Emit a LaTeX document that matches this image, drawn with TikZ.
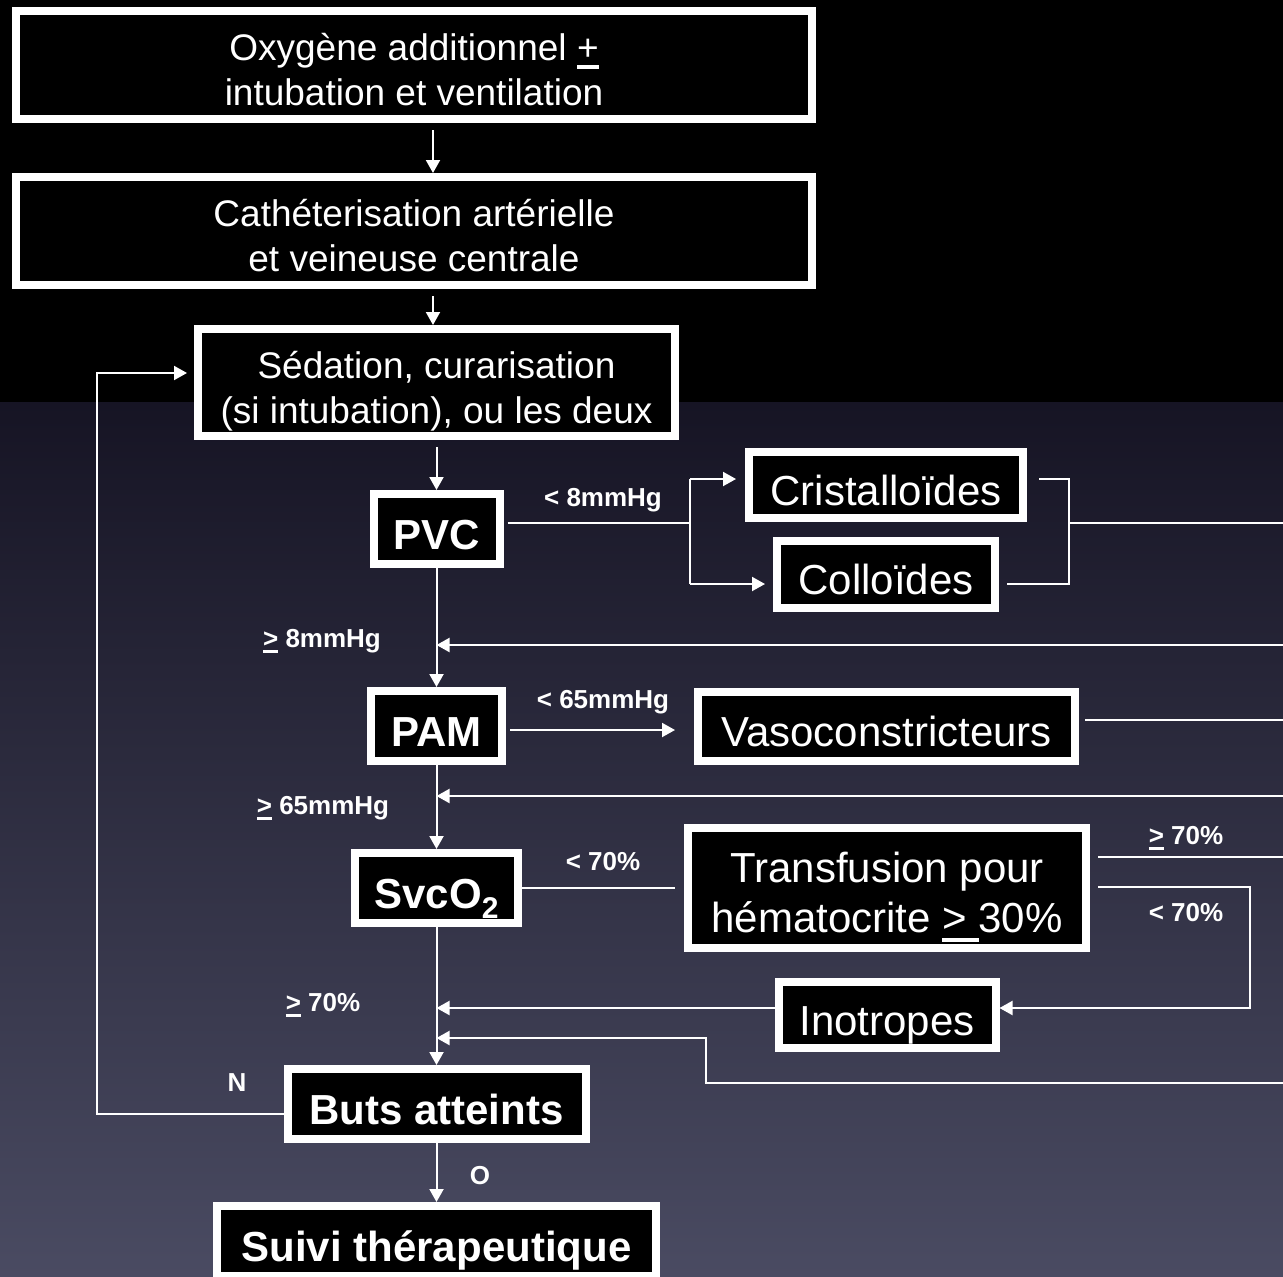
\documentclass[tikz,border=0pt]{standalone}
\usepackage{fontspec}
\setmainfont{Liberation Sans}
\usepackage{tikz}
\usetikzlibrary{arrows.meta,positioning,calc}
\definecolor{bgtop}{RGB}{22,20,36}
\definecolor{bgbot}{RGB}{74,75,98}
\tikzstyle{box}  =[draw=white, line width=8pt, fill=black,
                   text=white, align=center, inner sep=0pt]
\tikzstyle{wide} =[box, font=\fontsize{37}{45}\selectfont]
\tikzstyle{key}  =[box, minimum height=70pt, text height=44pt, text depth=4pt,
                   font=\fontsize{42}{50}\selectfont\bfseries]
\tikzstyle{actm} =[box, font=\fontsize{42}{50}\selectfont]
\tikzstyle{act}  =[actm, text height=44pt, text depth=4pt]
\tikzstyle{wire} =[draw=white, line width=2pt]
\tikzstyle{link} =[wire, -{Triangle[length=13pt,width=14pt]}]
\tikzstyle{lbl}  =[text=white, inner sep=0pt,
                   font=\fontsize{26}{30}\selectfont\bfseries]
\newcommand{\undl}[1]{\setbox0\hbox{#1}\rlap{\rule[-0.22em]{\wd0}{0.1em}}\box0\relax}
\newcommand{\lift}[1]{\rule{0pt}{#1}}
\begin{document}
\begin{tikzpicture}[x=1pt, y=-1pt, node distance=100pt, on grid]
        \fill[black] (0,0) rectangle (1283,402);
        \shade[top color=bgtop, bottom color=bgbot] (0,402) rectangle (1283,1277);
        \useasboundingbox (0,0) rectangle (1283,1277);

        % main column
        \node[wide, minimum width=796pt, minimum height=108pt] (oxy) at (414,65)
                {\lift{37pt}Oxygène additionnel \undl{+}\\intubation et ventilation};
        \node[wide, minimum width=796pt, minimum height=108pt, below=166pt of oxy] (cath)
                {\lift{37pt}Cathéterisation artérielle\\et veineuse centrale};
        \node[wide, minimum width=477pt, minimum height=107pt,
                below right=151.5pt and 22.5pt of cath] (sed)
                {\lift{45pt}Sédation, curarisation\\(si intubation), ou les deux};
        \node[key, minimum width=126pt, below=146.5pt of sed] (pvc) {PVC};
        \node[key, minimum width=131pt, below=197pt of pvc] (pam) {PAM};
        \node[key, minimum width=163pt, below=162pt of pam] (svc)
                {SvcO\raisebox{-0.25em}{\fontsize{30}{30}\selectfont 2}};
        \node[key, minimum width=298pt, below=216pt of svc] (buts) {Buts atteints};
        \node[key, minimum width=439pt, below=137pt of buts] (suivi) {Suivi thérapeutique};

        % right column
        \node[act, minimum width=274pt, minimum height=66pt,
                above right=44pt and 449.5pt of pvc] (cris) {Cristalloïdes};
        \node[act, minimum width=218pt, minimum height=67pt, below=89.5pt of cris] (coll) {Colloïdes};
        \node[act, minimum width=377pt, minimum height=69pt, right=450pt of pam] (vaso) {Vasoconstricteurs};
        \node[actm, minimum width=398pt, minimum height=120pt, right=450.5pt of svc] (trans)
                {\lift{49pt}Transfusion pour\\hématocrite \undl{>\ }30\%};
        \node[act, minimum width=217pt, minimum height=66pt, below=127pt of trans] (ino) {Inotropes};

        % bends and free ends
        \coordinate (fkT) at (690,479);
        \coordinate (fkB) at (690,584);
        \coordinate (jnT) at (1069,479);
        \coordinate (jnB) at (1069,584);
        \coordinate (e1) at (1283,523);
        \coordinate (r1) at (1283,645);
        \coordinate (e2) at (1283,720);
        \coordinate (r2) at (1283,796);
        \coordinate (e3) at (1283,857);
        \coordinate (tr) at (1250,887);
        \coordinate (tb) at (1250,1008);
        \coordinate (r3) at (1283,1083);
        \coordinate (kn) at (706,1038);
        \coordinate (lp) at (97,1114);
        \coordinate (lt) at (97,373);

        \draw[link, shorten <=7pt] ([xshift=19pt]oxy.south) -- ([xshift=19pt]cath.north);
        \draw[link, shorten <=7pt] ([xshift=19pt]cath.south) -- ([xshift=-3.5pt]sed.north);
        \draw[link, shorten <=7pt] (sed) -- (pvc);

        \draw[wire] ([xshift=4pt]pvc.east |- e1) -- (fkT |- e1);
        \draw[wire] (fkT) -- (fkB);
        \draw[link, shorten >=9pt] (fkT) -- (fkT -| cris.west);
        \draw[link, shorten >=8pt] (fkB) -- (fkB -| coll.west);
        \draw[wire] ([xshift=12pt]jnT -| cris.east) -- (jnT) -- (jnB) -- ([xshift=8pt]jnB -| coll.east);
        \draw[wire] (jnT |- e1) -- (e1);
        \draw[link] (r1) -- (r1 -| pvc);
        \draw[link] (pvc) -- (pam);

        \draw[link, shorten >=19pt] ([shift={(4pt,-4pt)}]pam.east) -- ([yshift=-4pt]vaso.west);
        \draw[wire] ([xshift=6pt]vaso.east |- e2) -- (e2);
        \draw[link] (r2) -- (r2 -| pam);
        \draw[link] (pam) -- (svc);

        \draw[wire] (svc.east) -- ([xshift=-9pt]trans.west);
        \draw[wire] ([xshift=8pt]trans.east |- e3) -- (e3);
        \draw[link] ([xshift=8pt]trans.east |- tr) -- (tr) -- (tb) -- (tb -| ino.east);
        \draw[link] (tb -| ino.west) -- (tb -| svc);
        \draw[link] (r3) -- (r3 -| kn) -- (kn) -- (kn -| svc);
        \draw[link] (svc) -- (buts);
        \draw[link, shorten >=7pt] (buts.west |- lp) -- (lp) -- (lt) -- (lt -| sed.west);
        \draw[link] (buts) -- (suivi);

        % labels
        \node[lbl] (l1) at (603,500) {< 8mmHg};
        \node[lbl] (l2) at (322,641) {\undl{>} 8mmHg};
        \node[lbl] (l3) at (603,702) {< 65mmHg};
        \node[lbl] (l4) at (323,808) {\undl{>} 65mmHg};
        \node[lbl] (l5) at (603,862) {< 70\%};
        \node[lbl] (l6) at (1186,838) {\undl{>} 70\%};
        \node[lbl] (l7) at (1186,913) {< 70\%};
        \node[lbl] (l8) at (323,1005) {\undl{>} 70\%};
        \node[lbl] (no) at (237,1083) {N};
        \node[lbl] (yes) at (480,1176) {O};
\end{tikzpicture}
\end{document}
